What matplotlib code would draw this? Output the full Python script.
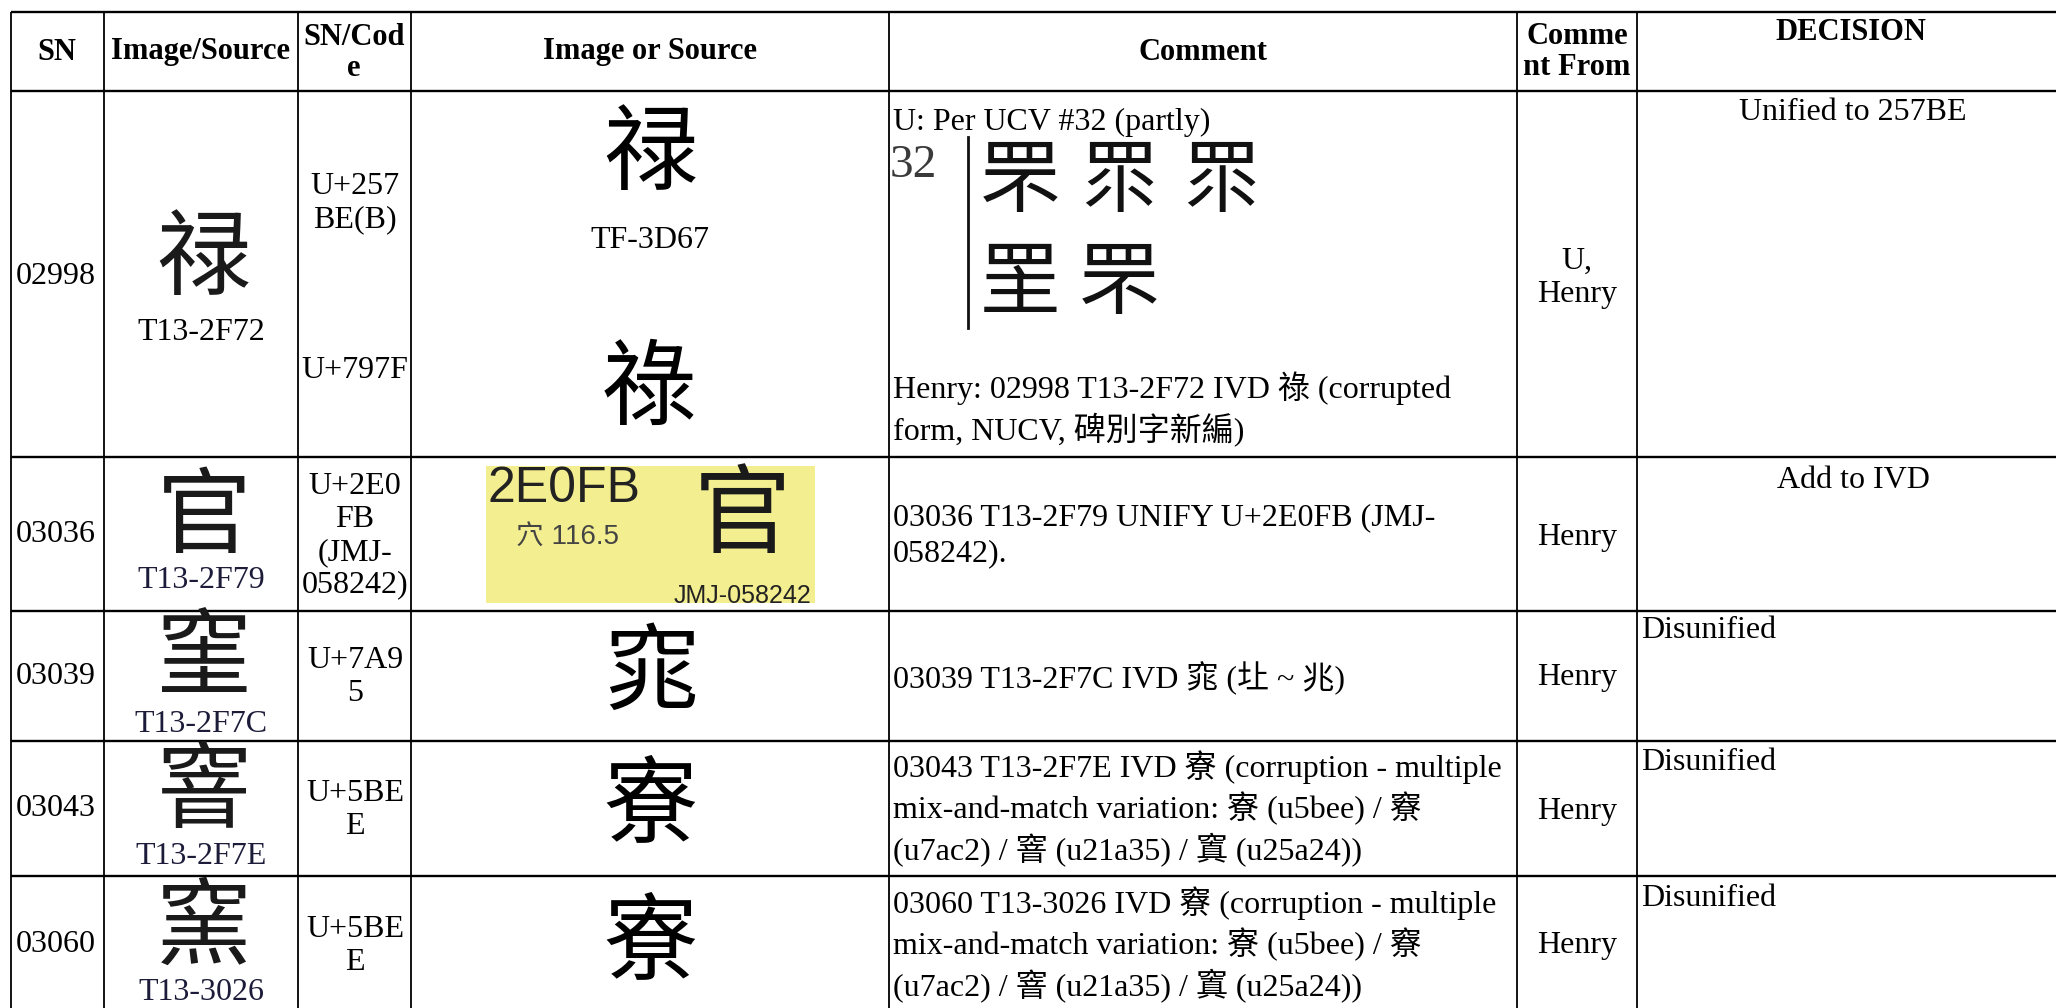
import matplotlib
matplotlib.use("Agg")
import matplotlib.pyplot as plt
from matplotlib.patches import Rectangle

CJK_ALL = ["Noto Sans CJK TC", "Noto Sans CJK JP"]
SERIF = ["Liberation Serif"] + CJK_ALL + ["DejaVu Sans"]
SANS = ["Liberation Sans"] + CJK_ALL + ["DejaVu Sans"]
CJK = CJK_ALL + ["DejaVu Sans"]

# table content
# no installed font has U+257BE, U+21A35 or U+25A24, so the nearest look-alikes are used
headers = ["SN", "Image/Source", "SN/Cod\ne", "Image or Source", "Comment", "Comme\nnt From", "DECISION"]
sn = ["02998", "03036", "03039", "03043", "03060"]
src_glyphs = ["禄", "官", "窐", "窨", "窯"]   # stand-ins for the glyph images
src_labels = ["T13-2F72", "T13-2F79", "T13-2F7C", "T13-2F7E", "T13-3026"]
codes = ["U+257\nBE(B)", "U+2E0\nFB\n(JMJ-\n058242)", "U+7A9\n5", "U+5BE\nE", "U+5BE\nE"]
code_extra = "U+797F"
ref_glyphs = ["禄", None, "窕", "寮", "寮"]
ref_label = "TF-3D67"
ref_extra = "祿"
box_code = "2E0FB"
box_radical = "穴 116.5"
box_glyph = "官"
box_source = "JMJ-058242"
ucv_title = "U: Per UCV #32 (partly)"
ucv_num = "32"
ucv_glyphs = [["罘", "眔", "眔"], ["罜", "罘"]]
comments = [
    "Henry: 02998 T13-2F72 IVD 祿 (corrupted\nform, NUCV, 碑別字新編)",
    "03036 T13-2F79 UNIFY U+2E0FB (JMJ-\n058242).",
    "03039 T13-2F7C IVD 窕 (圵 ~ 兆)",
    "03043 T13-2F7E IVD 寮 (corruption - multiple\nmix-and-match variation: 寮 (u5bee) / 竂\n(u7ac2) / 窨 (u21a35) / 窴 (u25a24))",
    "03060 T13-3026 IVD 竂 (corruption - multiple\nmix-and-match variation: 寮 (u5bee) / 竂\n(u7ac2) / 窨 (u21a35) / 窴 (u25a24))",
]
comment_from = ["U,\nHenry", "Henry", "Henry", "Henry", "Henry"]
decisions = ["Unified to 257BE", "Add to IVD", "Disunified", "Disunified", "Disunified"]

# layout in pixels
col_x = [11, 104, 298, 411, 889, 1517, 1637]
row_y = [12, 91, 457, 611, 741, 876]
W, H = 2056, 1008
BODY = 23
HEAD = 22
GLYPH = 68

fig = plt.figure(figsize=(W / 100, H / 100), dpi=100)
ax = fig.add_axes([0, 0, 1, 1])
ax.set_xlim(0, W)
ax.set_ylim(H, 0)
ax.axis("off")

for y in row_y:
    ax.plot([col_x[0], W], [y, y], color="black", lw=1.7, solid_capstyle="butt")
for x in col_x:
    ax.plot([x, x], [row_y[0], H], color="black", lw=1.3, solid_capstyle="butt")

# header
head_x = [57, 201, 354, 650, 1203, 1577, 1851]
head_y = [52, 52, 53, 52, 52, 52, 33]
for x, y, t in zip(head_x, head_y, headers):
    ax.text(x, y, t, ha="center", va="center", fontsize=HEAD, fontweight="bold",
            family=SERIF, linespacing=1.05)

# rows
sn_y = [276, 535, 677, 809, 945]
glyph_y = [261, 519, 660, 793, 930]
label_y = [332, 580, 724, 856, 993]
code_y = [203, 536, 677, 810, 946]
ref_y = [156, None, 675, 808, 945]
comment_y = [409, 536, 678, 809, 945]
from_y = [278, 537, 678, 811, 946]
dec_y = [113, 480, 631, 763, 898]

for i in range(5):
    ax.text(16, sn_y[i], sn[i], ha="left", va="center", fontsize=BODY, family=SERIF)
    ax.text(204, glyph_y[i], src_glyphs[i], ha="center", va="center", fontsize=GLYPH,
            family=CJK, color="#1a1a1a")
    ax.text(201, label_y[i], src_labels[i], ha="center", va="center", fontsize=BODY,
            family=SERIF, color="#000000" if i == 0 else "#1c1c3a")
    ax.text(355, code_y[i], codes[i], ha="center", va="center", fontsize=BODY,
            family=SERIF, linespacing=1.17)
    if ref_glyphs[i] is not None:
        ax.text(651, ref_y[i], ref_glyphs[i], ha="center", va="center", fontsize=GLYPH,
                family=CJK)
    ax.text(893, comment_y[i], comments[i], ha="left", va="center", fontsize=BODY,
            family=SERIF, linespacing=1.3)
    ax.text(1577, from_y[i], comment_from[i], ha="center", va="center", fontsize=BODY,
            family=SERIF, linespacing=1.2)
    if i < 2:
        ax.text(1853, dec_y[i], decisions[i], ha="center", va="center", fontsize=BODY,
                family=SERIF)
    else:
        ax.text(1641, dec_y[i], decisions[i], ha="left", va="center", fontsize=BODY,
                family=SERIF)

# row 1 extras
ax.text(355, 370, code_extra, ha="center", va="center", fontsize=BODY, family=SERIF)
ax.text(650, 240, ref_label, ha="center", va="center", fontsize=BODY, family=SERIF)
ax.text(649, 391, ref_extra, ha="center", va="center", fontsize=GLYPH, family=CJK)

ax.text(893, 122, ucv_title, ha="left", va="center", fontsize=BODY, family=SERIF)
ax.text(890, 166, ucv_num, ha="left", va="center", fontsize=34, family=SERIF, color="#3a3a3a")
ax.plot([968, 968], [137, 328], color="#111111", lw=2)
ucv_x = [1020, 1119, 1221]
ucv_rows_y = [183, 285]
for r, row in enumerate(ucv_glyphs):
    for c, g in enumerate(row):
        ax.text(ucv_x[c], ucv_rows_y[r], g, ha="center", va="center", fontsize=58,
                family=CJK, color="#111111")

# row 2 yellow source image
box = Rectangle((486, 466), 329, 137, facecolor="#f3ee8f", edgecolor="none")
ax.add_patch(box)
ax.text(488, 489, box_code, ha="left", va="center", fontsize=36, family=SANS, color="#222222")
ax.text(516, 537, box_radical, ha="left", va="center", fontsize=20, family=SANS, color="#444444")
ax.text(742, 517, box_glyph, ha="center", va="center", fontsize=70, family=CJK, color="#1a1a1a")
t = ax.text(811, 596, box_source, ha="right", va="center", fontsize=18, family=SANS,
            color="#222222")
t.set_clip_path(box)

plt.savefig("out.png", dpi=100)
